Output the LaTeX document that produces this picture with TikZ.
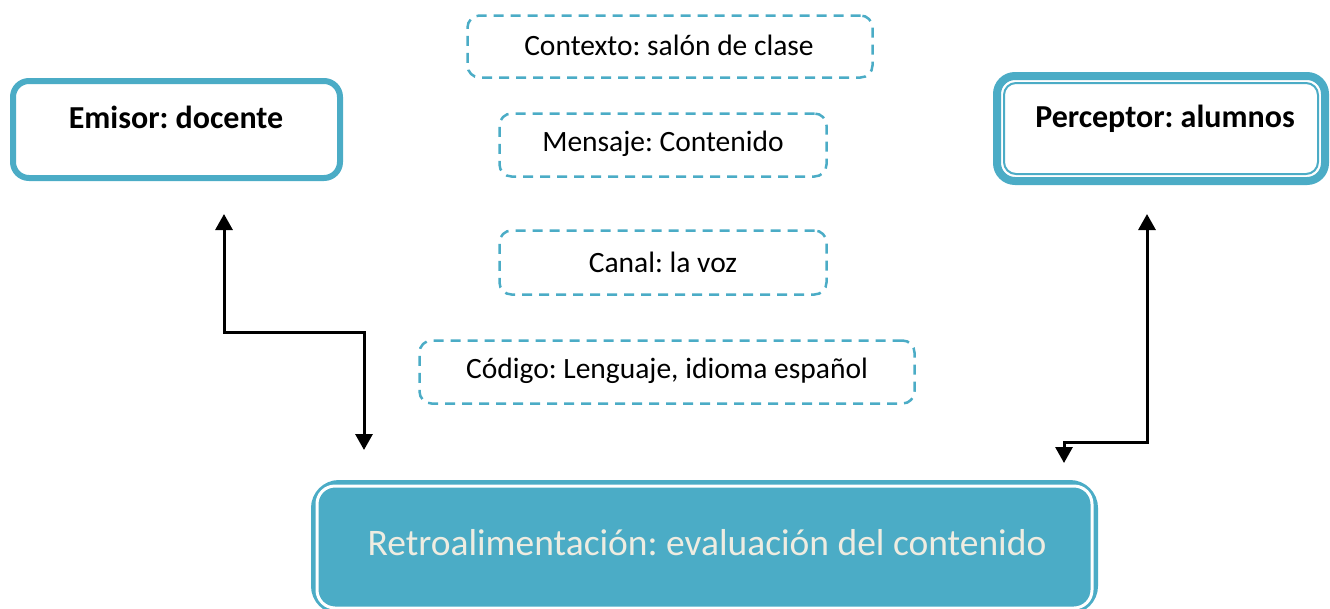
\documentclass[tikz,border=0pt]{standalone}
\usepackage{fontspec}
\setmainfont{Carlito}
\usetikzlibrary{arrows.meta}
\definecolor{acc}{HTML}{4BACC6}
\definecolor{cream}{HTML}{EEECE1}
\begin{document}
\frenchspacing
\begin{tikzpicture}[x=1pt,y=-1pt,
  solidbox/.style={draw=acc, line width=6pt, rounded corners=16pt, inner sep=0pt, fill=white},
  dblbox/.style={draw=acc, line width=8pt, rounded corners=18pt, inner sep=0pt, fill=white},
  dashbox/.style={draw=acc, line width=2.5pt, dash pattern=on 10pt off 7pt, rounded corners=12pt, inner sep=0pt},
  retrobox/.style={draw=acc, fill=acc, line width=8pt, rounded corners=24pt, inner sep=0pt},
  lbl/.style={font=\fontsize{29.5}{34}\selectfont, inner sep=0pt},
  blbl/.style={font=\fontsize{32}{36}\selectfont\bfseries, inner sep=0pt},
  conn/.style={line width=3pt, {Triangle[length=16pt,width=17pt]}-{Triangle[length=16pt,width=17pt]}}
]
\useasboundingbox (0,0) rectangle (1330,608);

% main boxes
\node[solidbox, minimum width=327pt, minimum height=97pt] (emisor) at (176.5,129.5) {};
\node[blbl] (emisorT) at (176,117) {Emisor: docente};

\node[dblbox, minimum width=328pt, minimum height=105pt] (perc) at (1161,128.5) {};
\draw[acc, line width=2pt, rounded corners=12pt]
  ([xshift=11pt,yshift=-11pt]perc.north west) rectangle ([xshift=-11pt,yshift=11pt]perc.south east);
\node[blbl] (percT) at (1165,119) {Perceptor: alumnos};

\node[dashbox, minimum width=405pt, minimum height=62pt] (ctx) at (670,46.5) {};
\node[lbl] (ctxT) at (669,45) {Contexto: salón de clase};

\node[dashbox, minimum width=327pt, minimum height=63pt] (msg) at (663,145) {};
\node[lbl] (msgT) at (663,144) {Mensaje: Contenido};

\node[dashbox, minimum width=327pt, minimum height=64pt] (can) at (663,262.5) {};
\node[lbl] (canT) at (663,262) {Canal: la voz};

\node[dashbox, minimum width=495pt, minimum height=63pt] (cod) at (667,372) {};
\node[lbl] (codT) at (667,371) {Código: Lenguaje, idioma español};

\node[retrobox, minimum width=779pt, minimum height=126pt] (retro) at (704.5,547) {};
\draw[white, line width=3pt, rounded corners=18pt]
  ([xshift=6pt,yshift=-6pt]retro.north west) rectangle ([xshift=-6pt,yshift=6pt]retro.south east);
\node[font=\fontsize{37.5}{42}\selectfont, text=cream, inner sep=0pt] (retroT) at (707,543) {Retroalimentación: evaluación del contenido};

% connectors
\coordinate (la) at (224,214);
\coordinate (lm) at (364,332);
\coordinate (lb) at (364,450);
\draw[conn] (la) |- (lm) -- (lb);

\coordinate (ra) at (1147,214);
\coordinate (rm) at (1147,442);
\coordinate (rb) at (1064,463);
\draw[conn] (ra) -- (rm) -| (rb);
\end{tikzpicture}
\end{document}
